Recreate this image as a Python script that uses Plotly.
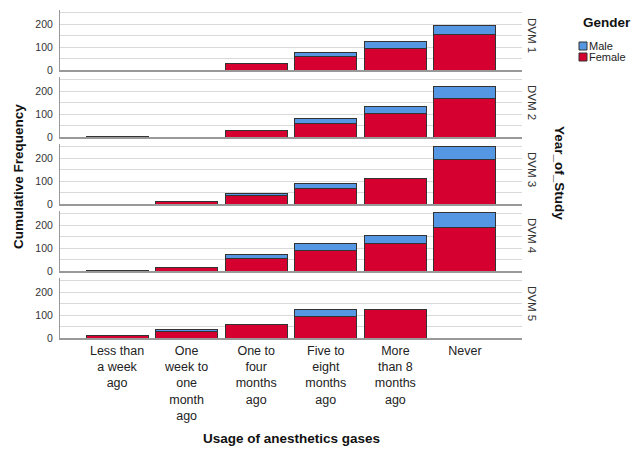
import plotly.graph_objects as go
from plotly.subplots import make_subplots

categories = ["Less than<br>a week<br>ago", "One<br>week to<br>one<br>month<br>ago",
              "One to<br>four<br>months<br>ago", "Five to<br>eight<br>months<br>ago",
              "More<br>than 8<br>months<br>ago", "Never"]
years = ["DVM 1", "DVM 2", "DVM 3", "DVM 4", "DVM 5"]

female_dvm1 = [None, None, 27, 59, 94, 153]
male_dvm1 = [None, None, None, 19, 30, 41]
female_dvm2 = [2, None, 29, 60, 101, 168]
male_dvm2 = [None, None, None, 21, 34, 51]
female_dvm3 = [None, 13, 35, 66, 110, 193]
male_dvm3 = [None, None, 10, 22, None, 59]
female_dvm4 = [3, 14, 53, 90, 120, 191]
male_dvm4 = [None, None, 17, 30, 36, 64]
female_dvm5 = [12, 29, 61, 94, 125, None]
male_dvm5 = [None, 9, None, 31, None, None]

female = [female_dvm1, female_dvm2, female_dvm3, female_dvm4, female_dvm5]
male = [male_dvm1, male_dvm2, male_dvm3, male_dvm4, male_dvm5]

RED = "#D5002F"
BLUE = "#5597E2"
EDGE = "#333333"
FONT = "Liberation Sans, Arial, sans-serif"

W, H = 634, 450
ML, MR, MT, MB = 60, 112, 10, 112
PW, PH = W - ML - MR, H - MT - MB

vs = 7 / PH
fig = make_subplots(rows=5, cols=1, shared_xaxes=True, vertical_spacing=vs)

for i in range(5):
    fig.add_trace(go.Bar(x=categories, y=female[i], name="Female", marker=dict(color=RED, line=dict(color=EDGE, width=1)),
                         width=0.89, showlegend=False), row=i + 1, col=1)
    fig.add_trace(go.Bar(x=categories, y=male[i], name="Male", marker=dict(color=BLUE, line=dict(color=EDGE, width=1)),
                         width=0.89, showlegend=False), row=i + 1, col=1)

fig.update_layout(barmode="stack", width=W, height=H, margin=dict(l=ML, r=MR, t=MT, b=MB, autoexpand=False),
                  plot_bgcolor="white", paper_bgcolor="white", font=dict(family=FONT, color="#222"))

fig.update_yaxes(range=[0, 262], tickvals=[0, 100, 200], showgrid=True, gridcolor="#d9d9d9", gridwidth=1,
                 minor=dict(dtick=50, showgrid=True, gridcolor="#d9d9d9", gridwidth=1),
                 showline=True, linecolor="#999999", linewidth=1, zeroline=False, ticks="",
                 tickfont=dict(size=10.5, color="#333"), ticklabelstandoff=4)
fig.update_xaxes(range=[-0.82, 5.82], showline=True, linecolor="#999999", linewidth=1.5, ticks="",
                 showgrid=False, tickfont=dict(size=12.5, color="#222"), tickangle=0)

annotations = []
for i, yr in enumerate(years):
    ax = fig.layout["yaxis" if i == 0 else f"yaxis{i+1}"]
    d0, d1 = ax.domain
    annotations.append(dict(text=yr, x=(532 - ML) / PW, y=(d0 + d1) / 2, xref="paper", yref="paper",
                            textangle=90, showarrow=False, xanchor="center", yanchor="middle", yshift=5,
                            font=dict(size=11.5, color="#333")))

annotations.append(dict(text="<b>Cumulative Frequency</b>", x=(18 - ML) / PW, y=(MT + PH - 177) / PH,
                        xref="paper", yref="paper", textangle=-90, showarrow=False,
                        xanchor="center", yanchor="middle", font=dict(size=13.5, color="#111")))
annotations.append(dict(text="<b>Year_of_Study</b>", x=(560 - ML) / PW, y=(MT + PH - 173) / PH,
                        xref="paper", yref="paper", textangle=90, showarrow=False,
                        xanchor="center", yanchor="middle", font=dict(size=13.5, color="#111")))
annotations.append(dict(text="<b>Usage of anesthetics gases</b>", x=0.5, y=(MT + PH - 438) / PH,
                        xref="paper", yref="paper", showarrow=False,
                        xanchor="center", yanchor="middle", font=dict(size=13.5, color="#111")))


def px_x(x):
    return (x - ML) / PW


def px_y(y):
    return (MT + PH - y) / PH


# Legend (drawn as key boxes + labels)
annotations.append(dict(text="<b>Gender</b>", x=px_x(581), y=px_y(22), xref="paper", yref="paper",
                        showarrow=False, xanchor="left", yanchor="middle", font=dict(size=13.5, color="#111")))
shapes = []
for label, col, yc in [("Male", BLUE, 46), ("Female", RED, 57)]:
    shapes.append(dict(type="rect", xref="paper", yref="paper", x0=px_x(579), x1=px_x(587),
                       y0=px_y(yc + 4), y1=px_y(yc - 4), fillcolor=col, line=dict(color=EDGE, width=1)))
    annotations.append(dict(text=label, x=px_x(587), y=px_y(yc), xref="paper", yref="paper",
                            showarrow=False, xanchor="left", yanchor="middle", font=dict(size=11, color="#222")))

fig.update_layout(annotations=annotations, shapes=shapes)
fig.write_html("out.html", config={"displayModeBar": False},
               post_script="document.body.style.margin='0';document.body.style.overflow='hidden';")
